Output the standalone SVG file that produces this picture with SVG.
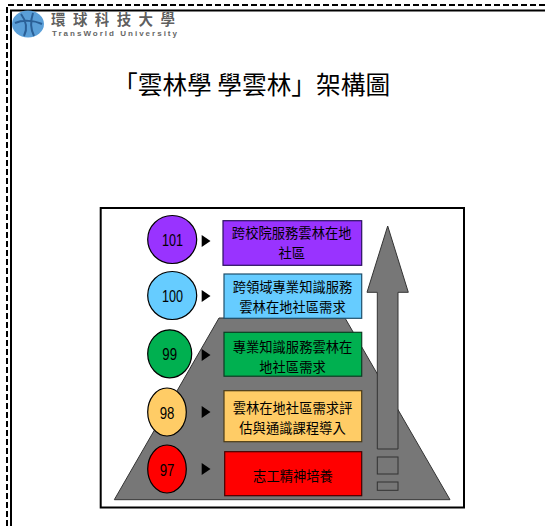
<svg xmlns="http://www.w3.org/2000/svg" width="545" height="526" viewBox="0 0 545 526">
<style>
.cjk{font-family:"Noto Sans CJK TC","Noto Sans CJK SC",sans-serif;fill:#000}
.label{font-size:13.3px;text-anchor:middle}
.num{font-family:"Liberation Sans",Arial,sans-serif;font-size:17px;text-anchor:middle;fill:#000}
.circle{stroke:#000;stroke-width:1.2}
.box{stroke-width:1.2}
.gray{fill:#777;stroke:#333;stroke-width:1}
.tri{fill:#000}
</style>
<rect width="545" height="526" fill="#fff"/>
<g id="frame" fill="none" stroke="#000">
<path d="M7 526V5H545" stroke-width="2" stroke-dasharray="6 3"/>
<path d="M11 526V10.500H545" stroke-width="2"/>
</g>
<g id="logo">
<ellipse cx="28" cy="24" rx="16" ry="13.500" fill="#5a9fd8"/>
<path d="M21 14C27 22 27 30 24 36M33 13C30 22 31 30 34 36M15 23C22 20 34 20 42 24" fill="none" stroke="#2a5f96" stroke-width="2"/>
<text class="cjk" x="51" y="25" font-size="14.500" font-weight="700" letter-spacing="7.400" fill-opacity=".65">環球科技大學</text>
<text x="52" y="35.500" font-family="Liberation Sans,Arial,sans-serif" font-size="8" font-weight="700" textLength="125" lengthAdjust="spacing" fill="#666">TransWorld University</text>
</g>
<g id="title"><text class="cjk" x="113" y="94" font-size="24.700">「雲林學 學雲林」架構圖</text></g>
<g id="panel"><rect x="100.700" y="208" width="363.300" height="299.500" fill="#fff" stroke="#000" stroke-width="2"/></g>
<g id="pyramid"><path class="gray" d="M219 318H345L450 499.700H114.300Z"/></g>
<g id="rise-arrow"><path class="gray" d="M387.700 226L408.300 292.300H398V449H377.300V292.300H367Z" stroke-width="1.300"/></g>
<g id="step-large"><rect class="gray" x="377.300" y="457" width="20.700" height="17" stroke-width="1.300"/></g>
<g id="step-small"><rect class="gray" x="377.300" y="482" width="20.700" height="8.300" stroke-width="1.300" fill="#888"/></g>
<g id="connectors">
<path class="tri" d="M201.700 235L210.500 241L201.700 247Z"/>
<path class="tri" d="M201.700 290L210.500 296L201.700 302Z"/>
<path class="tri" d="M201.700 349L210.500 355L201.700 361Z"/>
<path class="tri" d="M201.700 406L210.500 412L201.700 418Z"/>
<path class="tri" d="M201.700 463L210.500 469L201.700 475Z"/>
</g>
<g id="node-101">
<ellipse class="circle" cx="172.200" cy="239.500" rx="24.500" ry="24" fill="#9933ff"/>
<text class="num" x="172.500" y="246" textLength="21" lengthAdjust="spacingAndGlyphs">101</text>
<rect class="box" x="223" y="220.700" width="138.700" height="44.600" fill="#9933ff" stroke="#2a1060"/>
<text class="cjk label" x="291.700" y="238">跨校院服務雲林在地</text>
<text class="cjk label" x="291.700" y="258">社區</text>
</g>
<g id="node-100">
<ellipse class="circle" cx="172.200" cy="295.500" rx="24.500" ry="24" fill="#66ccff"/>
<text class="num" x="172.500" y="302" textLength="21" lengthAdjust="spacingAndGlyphs">100</text>
<rect class="box" x="224" y="274" width="137.700" height="44.300" fill="#66ccff" stroke="#1f4f6b"/>
<text class="cjk label" x="292.500" y="292.300">跨領域專業知識服務</text>
<text class="cjk label" x="292.500" y="312.300">雲林在地社區需求</text>
</g>
<g id="node-99">
<ellipse class="circle" cx="169.700" cy="353.800" rx="22" ry="24" fill="#00b050"/>
<text class="num" x="169.700" y="360.300" textLength="14.700" lengthAdjust="spacingAndGlyphs">99</text>
<rect class="box" x="224" y="332.300" width="137.700" height="43.900" fill="#00b050" stroke="#0b3d22"/>
<text class="cjk label" x="292.500" y="351.700">專業知識服務雲林在</text>
<text class="cjk label" x="292.500" y="371.700">地社區需求</text>
</g>
<g id="node-98">
<ellipse class="circle" cx="167" cy="412" rx="19.300" ry="24" fill="#ffcc66"/>
<text class="num" x="167" y="418.500" textLength="14.700" lengthAdjust="spacingAndGlyphs">98</text>
<rect class="box" x="224" y="390.700" width="137.700" height="51" fill="#ffcc66" stroke="#4a3a17"/>
<text class="cjk label" x="292.500" y="413">雲林在地社區需求評</text>
<text class="cjk label" x="292.500" y="432.700">估與通識課程導入</text>
</g>
<g id="node-97">
<ellipse class="circle" cx="167" cy="469" rx="19.300" ry="24" fill="#ff0000"/>
<text class="num" x="167" y="475.500" textLength="14.700" lengthAdjust="spacingAndGlyphs">97</text>
<rect class="box" x="224.700" y="451.700" width="137" height="44" fill="#ff0000" stroke="#400"/>
<text class="cjk label" x="293" y="480.700">志工精神培養</text>
</g>
</svg>
